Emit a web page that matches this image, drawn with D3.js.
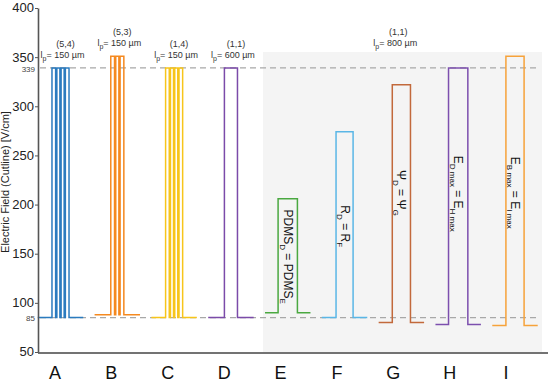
<!DOCTYPE html>
<html><head><meta charset="utf-8">
<script src="https://cdn.jsdelivr.net/npm/d3@7/dist/d3.min.js"></script>
<style>body{margin:0;background:#fff;}svg{display:block;font-family:Arial,"Liberation Sans",sans-serif;}</style>
</head><body><svg id="c" width="550" height="388"></svg>
<script>
// ---- data ----
const categories = ["A","B","C","D","E","F","G","H","I"];
const peakValues = [339, 351, 339, 339, 206, 274, 322, 339, 351];
const baseValues = [85, 88, 85, 85, 90, 85, 80, 78, 77];
const pulseCounts = [4, 3, 4, 1, 1, 1, 1, 1, 1];
const pulseWidthsRel = [0.30, 0.23, 0.30, 0.23, 0.34, 0.30, 0.32, 0.34, 0.32];
const colors = ["#2b7bbf","#f5891f","#f7c51b","#7b4ba9","#4aa840","#5ab6e6","#c2693b","#7c4fae","#f6a23a"];
const yTicks = [50,100,150,200,250,300,350,400];
const refLines = [85, 339];
const topNotes = [
  {cat:"A", pos:"(5,4)", lp:"150"},
  {cat:"B", pos:"(5,3)", lp:"150"},
  {cat:"C", pos:"(1,4)", lp:"150"},
  {cat:"D", pos:"(1,1)", lp:"600"},
  {cat:"G", pos:"(1,1)", lp:"800"}
];
const innerLabels = [
  {cat:"E", parts:[["PDMS",""],["D","sub"],[" = PDMS",""],["E","sub"]], v:147},
  {cat:"F", parts:[["R",""],["D","sub"],[" = R",""],["F","sub"]], v:178},
  {cat:"G", parts:[["Ψ",""],["D","sub"],[" = Ψ",""],["G","sub"]], v:212},
  {cat:"H", parts:[["E",""],["D max","sub"],["  = E",""],["H max","sub"]], v:211},
  {cat:"I", parts:[["E",""],["B max","sub"],["  = E",""],["I max","sub"]], v:212}
];
// ---- layout ----
const svg = d3.select("#c");
const mLeft = 38, mRight = 548, mTop = 8, mBottom = 352;
const y = d3.scaleLinear().domain([50,400]).range([mBottom, mTop]);
const xLab = d3.scalePoint().domain(categories).range([55, 506]);
const xTr = d3.scalePoint().domain(categories).range([60.5, 515]);
const step = xTr.step();

// shaded region
svg.append("rect").attr("x", 263).attr("y", 52).attr("width", 542-263).attr("height", mBottom-52).attr("fill", "#f4f4f4");

// reference dashed lines
svg.selectAll(".ref").data(refLines).join("line")
  .attr("x1", mLeft+2).attr("x2", 540).attr("y1", d=>y(d)).attr("y2", d=>y(d))
  .attr("stroke", "#a8a8a8").attr("stroke-width", 1.3).attr("stroke-dasharray", "6,4");

// traces
categories.forEach((c,i)=>{
  const cx = xTr(c);
  const bw = pulseWidthsRel[i]*step;
  const x0 = cx - bw/2, x1 = cx + bw/2;
  const bl = cx - 0.4*step, br = cx + 0.4*step;
  const yb = y(baseValues[i]), yp = y(peakValues[i]);
  const n = pulseCounts[i];
  const w = bw/n;
  let p = d3.path();
  p.moveTo(bl, yb); p.lineTo(x0, yb); p.lineTo(x0, yp);
  for (let k=1;k<n;k++){
    const xs = x0 + k*w;
    p.lineTo(xs-0.6, yp); p.lineTo(xs-0.6, yb); p.lineTo(xs+0.6, yb); p.lineTo(xs+0.6, yp);
  }
  p.lineTo(x1, yp); p.lineTo(x1, yb); p.lineTo(br, yb);
  svg.append("path").attr("d", p.toString()).attr("fill","none")
    .attr("stroke", colors[i]).attr("stroke-width", 1.5);
});

// axes
const yAxis = d3.axisLeft(y).tickValues(yTicks).tickSize(3).tickSizeOuter(0);
const gy = svg.append("g").attr("transform", `translate(${mLeft},0)`).call(yAxis);
gy.select(".domain").attr("stroke","#555").attr("stroke-width",1.6);
gy.selectAll(".tick line").attr("stroke","#555");
gy.selectAll(".tick text").attr("font-size", 13).attr("fill","#222").attr("x",-4).attr("dy","0.3em");
// special small labels
svg.selectAll(".sp").data(refLines).join("text")
  .attr("x", mLeft-3).attr("y", d=>y(d)).attr("dy","0.45em").attr("text-anchor","end")
  .attr("font-size", 8).attr("fill","#444").text(d=>d);

svg.append("line").attr("x1", mLeft).attr("x2", mRight).attr("y1", mBottom+1).attr("y2", mBottom+1)
  .attr("stroke","#444").attr("stroke-width",1.6);
svg.selectAll(".cl").data(categories).join("text")
  .attr("x", d=>xLab(d)).attr("y", 379).attr("text-anchor","middle")
  .attr("font-size", 18).attr("fill","#111").text(d=>d);

// y title
svg.append("text").attr("transform", `translate(9,${(mTop+mBottom)/2+2}) rotate(-90)`)
  .attr("text-anchor","middle").attr("font-size", 11).attr("fill","#222")
  .text("Electric Field (Cutline) [V/cm]");

// top notes
topNotes.forEach(n=>{
  const i = categories.indexOf(n.cat);
  const isG = n.cat === "G";
  const cx = isG ? xLab(n.cat)+3 : xTr(n.cat)+3;
  const yp = isG ? y(351) - 4 : y(peakValues[i]) - 4;
  svg.append("text").attr("x", cx+2).attr("y", yp-17).attr("text-anchor","middle")
    .attr("font-size", 9).attr("fill","#333").text(n.pos);
  const t = svg.append("text").attr("x", cx-1).attr("y", yp-6).attr("text-anchor","middle")
    .attr("font-size", 9).attr("fill","#333");
  t.append("tspan").text("l");
  t.append("tspan").attr("font-size",7).attr("dy", 3).text("p");
  t.append("tspan").attr("dy", -3).text("= " + n.lp + "  µm");
});

// inner rotated labels
innerLabels.forEach(l=>{
  const cx = xTr(l.cat);
  const t = svg.append("text").attr("transform", `translate(${cx-4},${y(l.v)}) rotate(90)`)
    .attr("text-anchor","middle").attr("font-size", 12).attr("fill","#111");
  let shift = 0;
  l.parts.forEach(([s,kind])=>{
    const ts = t.append("tspan").text(s);
    if (kind==="sub"){ ts.attr("font-size", 8).attr("dy", 4 - shift); shift = 4; }
    else { ts.attr("dy", -shift); shift = 0; }
  });
});
</script></body></html>
